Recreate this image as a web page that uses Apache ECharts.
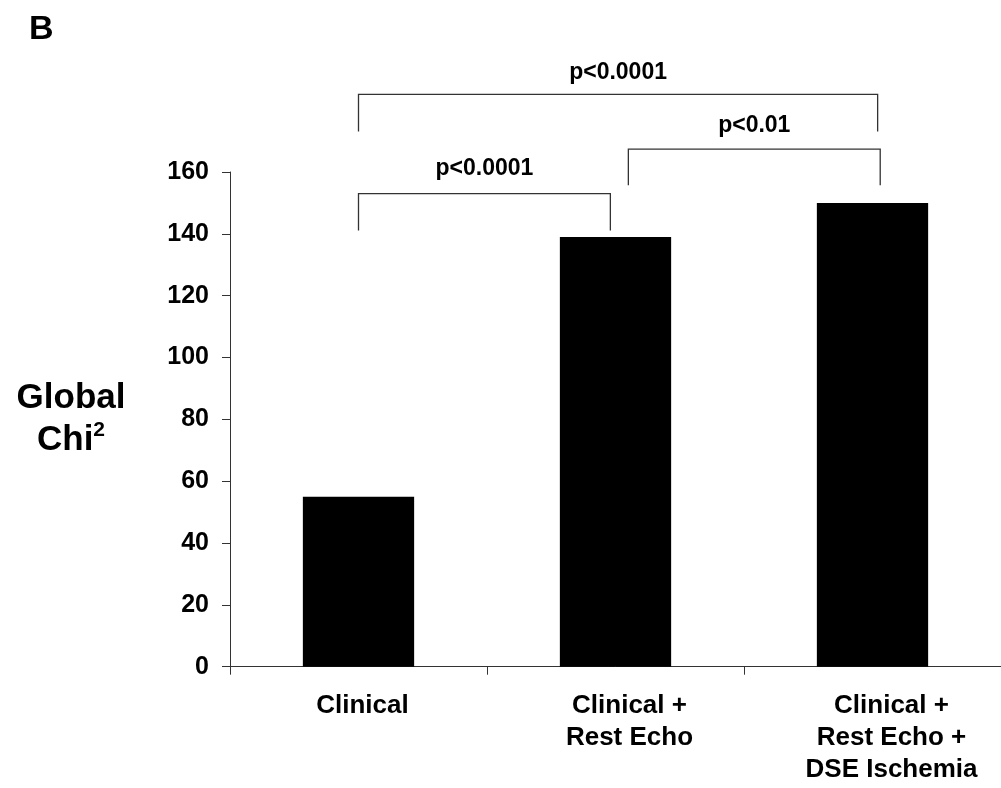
<!DOCTYPE html>
<html>
<head>
<meta charset="utf-8">
<script src="https://cdn.jsdelivr.net/npm/echarts@6/dist/echarts.min.js"></script>
<style>
html,body{margin:0;padding:0;background:#fff;}
#chart{width:1001px;height:788px;}
</style>
</head>
<body>
<div id="chart"></div>
<script>
// ---- data ----
var categories = ['Clinical', 'Clinical +\nRest Echo', 'Clinical +\nRest Echo +\nDSE Ischemia'];
var chiValues = [55, 139, 150];
var yTicks = [0, 20, 40, 60, 80, 100, 120, 140, 160];

// significance brackets (x in category units: category i is centred at i + 0.5)
var bracketStart = [0.5, 1.55, 0.5];
var bracketEnd = [1.48, 2.53, 2.52];
var bracketLevel = [153.0, 167.4, 185.1];
var bracketLeg = [141.1, 155.7, 173.1];
var bracketLabelLevel = [161.2, 175.1, 192.2];
var bracketLabels = ['p<0.0001', 'p<0.01', 'p<0.0001'];

var FONT = '"Liberation Sans", Arial, sans-serif';

var bracketData = bracketLabels.map(function (t, i) {
  return [bracketStart[i], bracketEnd[i], bracketLevel[i], bracketLeg[i], bracketLabelLevel[i], t];
});

// category labels sit slightly right of the bar centres in the reference
var labelRich = {};
var labelShift = [8, 28, 38];
labelShift.forEach(function (p, i) {
  labelRich['c' + i] = {
    fontFamily: FONT, fontWeight: 'bold', fontSize: 26, color: '#000',
    lineHeight: 32, padding: [0, 0, 0, p]
  };
});

var chart = echarts.init(document.getElementById('chart'));
chart.setOption({
  backgroundColor: '#ffffff',
  animation: false,
  grid: { left: 230, right: 0, top: 172, bottom: 121.3, containLabel: false },
  graphic: [{
    type: 'text', left: 29, top: 13,
    style: { text: 'B', font: 'bold 34px ' + FONT, fill: '#000' }
  }],
  xAxis: [{
    type: 'category',
    data: categories,
    axisLine: { lineStyle: { color: '#333', width: 1 } },
    axisTick: { show: true, length: 8, lineStyle: { color: '#333' } },
    axisLabel: {
      color: '#000', fontFamily: FONT, fontWeight: 'bold', fontSize: 26,
      lineHeight: 32, margin: 23, interval: 0,
      formatter: function (v, i) {
        return v.split('\n').map(function (line) { return '{c' + i + '|' + line + '}'; }).join('\n');
      },
      rich: labelRich
    }
  }, {
    type: 'value', min: 0, max: 3, show: false
  }],
  yAxis: {
    type: 'value', min: 0, max: 160, interval: 20,
    name: '{t|Global}\n{t|Chi}{sup|2}',
    nameLocation: 'middle', nameRotate: 0, nameGap: 159,
    nameTextStyle: {
      align: 'center', verticalAlign: 'middle',
      rich: {
        t: { fontFamily: FONT, fontWeight: 'bold', fontSize: 35, color: '#000', lineHeight: 42 },
        sup: { fontFamily: FONT, fontWeight: 'bold', fontSize: 21, color: '#000', verticalAlign: 'top', lineHeight: 42, padding: [0, 0, 14, 0] }
      }
    },
    axisLine: { show: true, lineStyle: { color: '#333', width: 1 } },
    axisTick: { show: true, length: 8, lineStyle: { color: '#333' } },
    splitLine: { show: false },
    axisLabel: { color: '#000', fontFamily: FONT, fontWeight: 'bold', fontSize: 25, margin: 21 }
  },
  series: [{
    type: 'bar',
    data: chiValues,
    barWidth: '43.3%',
    itemStyle: { color: '#000' }
  }, {
    type: 'custom',
    xAxisIndex: 1,
    clip: false,
    data: bracketData,
    renderItem: function (params, api) {
      var x1 = api.value(0), x2 = api.value(1);
      var lvl = api.value(2), leg = api.value(3), lab = api.value(4);
      var pL = api.coord([x1, leg]), pLT = api.coord([x1, lvl]);
      var pRT = api.coord([x2, lvl]), pR = api.coord([x2, leg]);
      var pT = api.coord([(x1 + x2) / 2, lab]);
      return {
        type: 'group',
        children: [{
          type: 'polyline',
          shape: { points: [pL, pLT, pRT, pR] },
          style: { stroke: '#333', lineWidth: 1.3, fill: null }
        }, {
          type: 'text',
          x: pT[0], y: pT[1],
          style: {
            text: bracketLabels[params.dataIndex],
            font: 'bold 23px ' + FONT, fill: '#000',
            align: 'center', verticalAlign: 'middle'
          }
        }]
      };
    }
  }]
});
</script>
</body>
</html>
